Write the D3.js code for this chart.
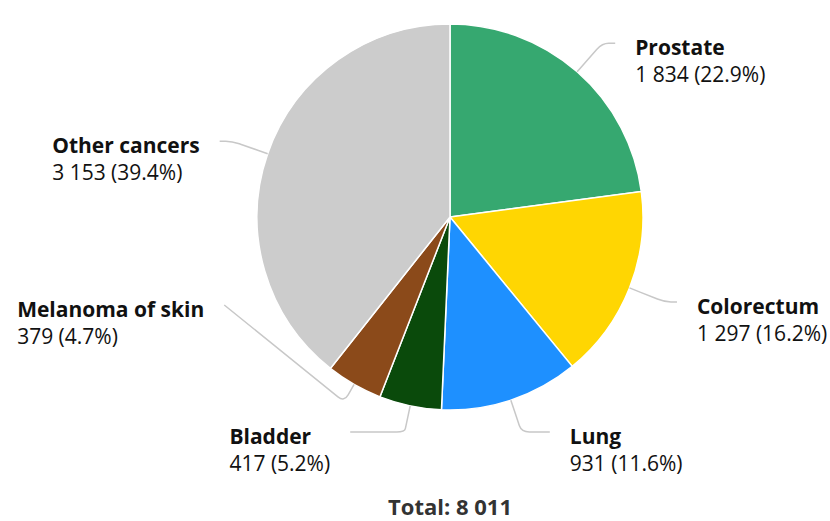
<!DOCTYPE html>
<html lang="en">
<head>
<meta charset="utf-8">
<title>New cancer cases by site</title>
<script src="https://cdn.jsdelivr.net/npm/d3@7"></script>
<style>
    body { margin: 0; background: #fff; }
    text { font-family: "Open Sans", sans-serif; fill: #111; }
</style>
</head>
<body>
<script>

    // data
    var categories = ["Prostate", "Colorectum", "Lung", "Bladder", "Melanoma of skin", "Other cancers"];
    var cases = [1834, 1297, 931, 417, 379, 3153];
    var colours = ["#36a870", "#ffd602", "#1e90ff", "#0a4a0b", "#8b4a1a", "#cccccc"];
    var totalTitle = "Total: ";

    // size and layout
    var w = 830, h = 521;
    var cx = 450, cy = 217, r = 193;
    var labelR = 233;      // radius on which the labels sit
    var bottomY = 432;     // lowest label anchor
    var minGap = 127;      // vertical space between labels on one side
    var breakLen = 20;     // radial part of the connector
    var fontSize = 21;

    var locale = d3.formatLocale({decimal: ".", thousands: " ", grouping: [3], currency: ["", ""]});
    var fmt = locale.format(",d");
    var total = d3.sum(cases);

    var data = categories.map(function (c, i) {
        return {name: c, value: cases[i], colour: colours[i]};
    });

    var pie = d3.pie().sort(null).value(function (d) { return d.value; });
    var arcs = pie(data);
    var arc = d3.arc().innerRadius(0).outerRadius(r);

    var svg = d3.select("body")
        .append("svg")
        .attr("width", w)
        .attr("height", h);

    // slices
    svg.append("g")
        .attr("transform", "translate(" + cx + "," + cy + ")")
        .selectAll("path")
        .data(arcs)
        .enter()
        .append("path")
        .attr("d", arc)
        .attr("fill", function (d) { return d.data.colour; })
        .attr("stroke", "#fff")
        .attr("stroke-width", 1.5);

    // label positions: natural spot on a circle, then pushed apart per side
    arcs.forEach(function (d) {
        d.mid = (d.startAngle + d.endAngle) / 2;
        d.right = d.mid < Math.PI;
        d.ly = Math.min(cy - (labelR - 2) * Math.cos(d.mid), bottomY);
    });

    [true, false].forEach(function (side) {
        var list = arcs.filter(function (d) { return d.right === side; })
            .sort(function (a, b) { return b.ly - a.ly; });
        for (var i = 1; i < list.length; i++) {
            list[i].ly = Math.min(list[i].ly, list[i - 1].ly - minGap);
        }
    });

    arcs.forEach(function (d) {
        var dy = Math.max(-labelR, Math.min(labelR, d.ly - cy));
        var dx = Math.sqrt(labelR * labelR - dy * dy) + 10;
        d.lx = d.right ? cx + dx : cx - dx;
    });

    // rounded polyline
    function roundedPath(pts, rad) {
        var p = "M" + pts[0][0] + "," + pts[0][1];
        for (var i = 1; i < pts.length - 1; i++) {
            var a = pts[i - 1], b = pts[i], c = pts[i + 1];
            var l1 = Math.hypot(b[0] - a[0], b[1] - a[1]);
            var l2 = Math.hypot(c[0] - b[0], c[1] - b[1]);
            var k1 = Math.min(rad, l1 / 2) / l1;
            var k2 = Math.min(rad, l2 / 2) / l2;
            p += "L" + (b[0] - (b[0] - a[0]) * k1) + "," + (b[1] - (b[1] - a[1]) * k1);
            p += "Q" + b[0] + "," + b[1] + " " + (b[0] + (c[0] - b[0]) * k2) + "," + (b[1] + (c[1] - b[1]) * k2);
        }
        var e = pts[pts.length - 1];
        return p + "L" + e[0] + "," + e[1];
    }

    // connectors
    svg.append("g")
        .selectAll("path")
        .data(arcs)
        .enter()
        .append("path")
        .attr("fill", "none")
        .attr("stroke", "#c8c8c8")
        .attr("stroke-width", 1.5)
        .attr("d", function (d) {
            var s = Math.sin(d.mid), c = Math.cos(d.mid);
            var edge = [cx + r * s, cy - r * c];
            var brk = [cx + (r + breakLen) * s, cy - (r + breakLen) * c];
            var crookX = cx + (d.ly - cy) * s / (-c);
            var pts = [[d.lx, d.ly]];
            var ok = d.right ? (crookX <= d.lx && crookX >= brk[0]) : (crookX >= d.lx && crookX <= brk[0]);
            if (ok) pts.push([crookX, d.ly]);
            pts.push(brk, edge);
            return roundedPath(pts, 8);
        });

    // labels
    var labels = svg.append("g")
        .selectAll("g")
        .data(arcs)
        .enter()
        .append("g");

    labels.append("text")
        .attr("class", "name")
        .attr("y", function (d) { return d.ly + 12; })
        .style("font-size", fontSize + "px")
        .style("font-weight", "bold")
        .text(function (d) { return d.data.name; });

    labels.append("text")
        .attr("class", "val")
        .attr("y", function (d) { return d.ly + 39; })
        .style("font-size", fontSize + "px")
        .text(function (d) {
            return fmt(d.data.value) + " (" + (d.data.value / total * 100).toFixed(1) + "%)";
        });

    labels.each(function (d) {
        var g = d3.select(this);
        var bw = d3.max(g.selectAll("text").nodes(), function (n) { return n.getComputedTextLength(); });
        var x0 = d.right ? d.lx + 20 : d.lx - 20 - bw;
        g.selectAll("text").attr("x", x0);
    });

    // total
    svg.append("text")
        .attr("x", cx)
        .attr("y", 515)
        .attr("text-anchor", "middle")
        .style("font-size", "22px")
        .style("font-weight", "bold")
        .style("fill", "#333")
        .text(totalTitle + fmt(total));

</script>
</body>
</html>
